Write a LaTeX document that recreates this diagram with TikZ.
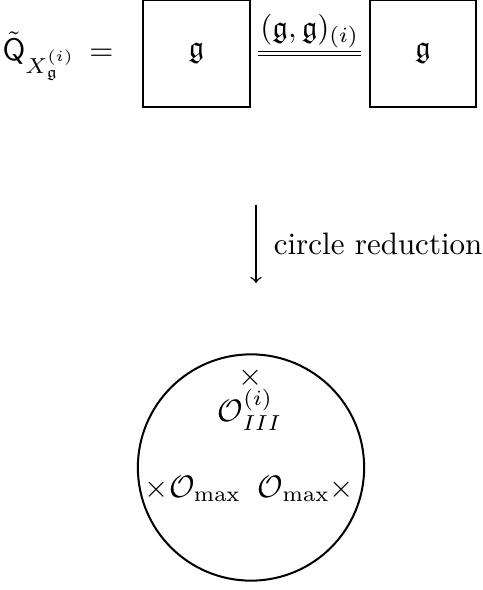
\documentclass[tikz,border=0pt]{standalone}
\usepackage{amsmath,amssymb}
\usetikzlibrary{positioning}

\begin{document}
\begin{tikzpicture}[
        x=0.3226pt, y=-0.3226pt,
        gauge/.style={draw, line width=0.65pt, minimum size=34.5pt, inner sep=0pt},
        link/.style={double, double distance=0.8pt, line width=0.5pt},
        every node/.style={align=center}
    ]
    \useasboundingbox (0,0) rectangle (483,590);
    % quiver
    \node[anchor=base east, inner sep=0pt] (lhs) at (114,61) {$\tilde{\mathsf{Q}}_{X_{\mathfrak{g}}^{(i)}} \,=$};
    \node[gauge] (g1) at (196.5,53.5) {$\mathfrak{g}$};
    \node[gauge] (g2) at (423,53.5) {$\mathfrak{g}$};
    \draw[link, shorten <=2.3pt, shorten >=2.3pt] (g1.east) -- (g2.west)
        node[midway, above, inner sep=1.5pt] (pair) {$(\mathfrak{g},\mathfrak{g})_{(i)}$};
    % reduction
    \coordinate (top) at (256,205);
    \coordinate (bot) at (256,283);
    \draw[->, line width=0.45pt] (top) -- (bot) node[midway, right=2.2pt] (red) {circle reduction};
    % curve
    \node[draw, circle, line width=0.65pt, minimum size=73pt, inner sep=0pt] (C) at (251,467.5) {};
    \node[inner sep=0pt] (x3) at (251,377.5) {$\times$};
    \node[inner sep=0pt] (o3) at (250,410) {$\mathcal{O}^{(i)}_{III}$};
    \node (o1) at (193,489) {$\times\mathcal{O}_{\max}$};
    \node (o2) at (306,489) {$\mathcal{O}_{\max}\times$};
\end{tikzpicture}
\end{document}
